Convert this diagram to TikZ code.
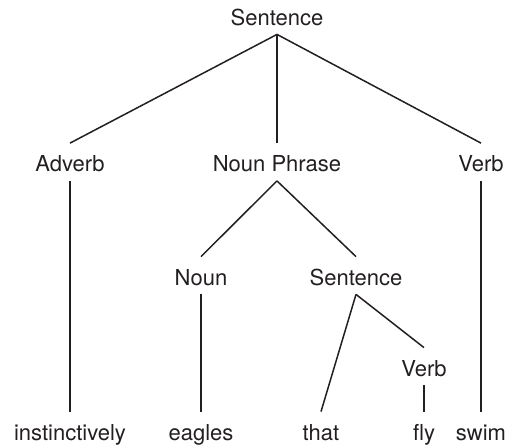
\documentclass[tikz,border=0pt]{standalone}
\usepackage{fontspec}
\setmainfont{TeX Gyre Heros}
\definecolor{ink}{RGB}{35,31,32}

\begin{document}
\begin{tikzpicture}[x=0.5pt, y=-0.5pt,
        word/.style={anchor=base, inner xsep=0pt, inner ysep=2pt, text height=12pt, text depth=2.5pt, font=\fontsize{11}{13}\selectfont, text=ink},
        branch/.style={draw=ink, line width=0.75pt}]
        \useasboundingbox (0,0) rectangle (510,447);

        % Nodes
        \node[word] (S) at (277,25) {Sentence};
        \node[word] (Adv) at (70,171.5) {Adverb};
        \node[word] (NP) at (277,171.5) {Noun Phrase};
        \node[word] (V) at (481,171.5) {Verb};
        \node[word] (N) at (201,285) {Noun};
        \node[word] (S2) at (356,285) {Sentence};
        \node[word] (V2) at (424,376) {Verb};

        % Words
        \node[word] (w1) at (70,440) {instinctively};
        \node[word] (w2) at (201,440) {eagles};
        \node[word] (w3) at (321,440) {that};
        \node[word] (w4) at (424,440) {fly};
        \node[word] (w5) at (481,440) {swim};

        % Edges
        \draw[branch] (S.south) -- (Adv.north);
        \draw[branch] (S.south) -- (NP.north);
        \draw[branch] (S.south) -- (V.north);
        \draw[branch] (Adv.south) -- (w1.north);
        \draw[branch] (NP.south) -- (N.north);
        \draw[branch] (NP.south) -- (S2.north);
        \draw[branch] (V.south) -- (w5.north);
        \draw[branch] (N.south) -- (w2.north);
        \draw[branch] (S2.south) -- (w3.north);
        \draw[branch] (S2.south) -- (V2.north);
        \draw[branch] (V2.south) -- (w4.north);
    \end{tikzpicture}
\end{document}
